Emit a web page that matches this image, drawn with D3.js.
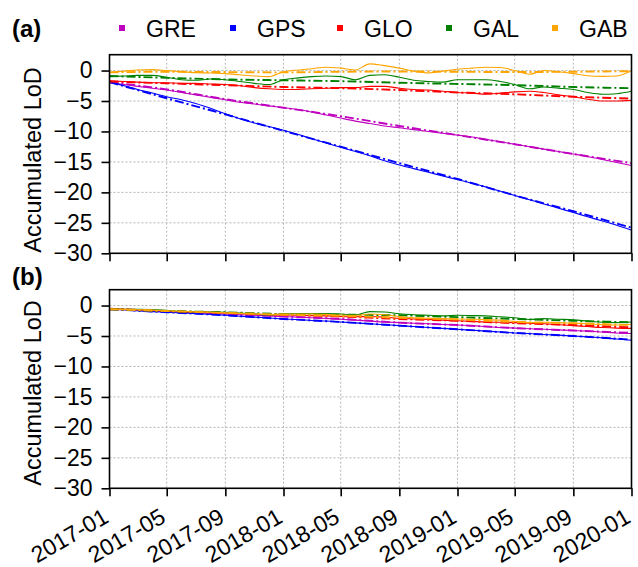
<!DOCTYPE html>
<html>
<head>
<meta charset="utf-8">
<script src="https://cdn.jsdelivr.net/npm/d3@7"></script>
<style>
  html, body { margin: 0; padding: 0; background: #fff; }
  svg { display: block; font-family: "Liberation Sans", Arial, sans-serif; }
</style>
</head>
<body>
<svg id="chart" width="638" height="567"></svg>
<script>
// Series names and colours (legend order)
const seriesNames = ["GRE", "GPS", "GLO", "GAL", "GAB"];
const seriesColors = ["#bf00bf", "#0000ff", "#ff0000", "#008000", "#ffa500"];

// Monthly dates 2017-01 .. 2020-01 (37 values) for the solid curves,
// and every fourth month (10 values) for the dash-dot trend curves.
const monthDates = d3.timeMonth.range(new Date(2017, 0, 1), new Date(2020, 0, 2));
const trendDates = monthDates.filter((d, i) => i % 4 === 0);

// Tick values
const xTickDates = trendDates;
const yTickValues = [0, -5, -10, -15, -20, -25, -30];

// Panel (a): solid curves (monthly)
const aSolidGRE = [-2.0,-2.3,-2.6,-2.9,-3.2,-3.6,-4.0,-4.4,-4.8,-5.2,-5.5,-5.8,-6.1,-6.4,-6.8,-7.3,-7.8,-8.3,-8.7,-9.1,-9.4,-9.7,-10.0,-10.3,-10.6,-10.9,-11.3,-11.7,-12.1,-12.5,-12.9,-13.3,-13.7,-14.1,-14.6,-15.1,-15.6];
const aSolidGPS = [-1.9,-2.5,-3.1,-3.7,-4.3,-4.8,-5.4,-6.2,-7.1,-7.9,-8.6,-9.2,-9.8,-10.5,-11.2,-11.9,-12.6,-13.3,-14.0,-14.8,-15.5,-16.1,-16.7,-17.3,-17.9,-18.5,-19.1,-19.8,-20.5,-21.2,-21.9,-22.6,-23.3,-24.0,-24.7,-25.4,-26.2];
const aSolidGLO = [-1.7,-1.8,-1.9,-2.0,-2.0,-2.1,-2.1,-2.2,-2.3,-2.5,-2.8,-3.0,-3.1,-3.1,-3.0,-2.9,-2.8,-2.8,-2.6,-2.6,-2.9,-3.1,-3.2,-3.4,-3.6,-3.7,-3.9,-3.7,-3.5,-3.4,-3.6,-4.0,-4.3,-4.7,-5.0,-5.0,-4.9];
const aSolidGAL = [-1.0,-0.9,-0.8,-0.8,-1.1,-1.5,-1.6,-1.4,-1.5,-1.8,-2.1,-2.3,-1.5,-1.2,-1.0,-0.9,-1.0,-1.5,-0.8,-0.7,-1.1,-1.6,-1.8,-1.9,-1.5,-1.5,-1.5,-1.8,-2.3,-3.0,-2.7,-2.9,-3.1,-3.6,-3.9,-3.8,-3.4];
const aSolidGAB = [-0.3,-0.1,0.1,0.15,0.0,-0.2,-0.35,-0.4,-0.5,-0.7,-0.9,-1.0,-0.2,0.1,0.3,0.55,0.4,0.1,1.1,0.8,0.4,-0.1,-0.4,-0.1,0.2,0.4,0.55,0.5,0.0,-0.6,0.0,-0.2,-0.5,-0.85,-0.95,-0.9,0.0];

// Panel (a): dash-dot trend curves (every fourth month)
const aTrendGRE = [-1.9,-3.1,-4.7,-6.1,-7.5,-9.1,-10.6,-12.1,-13.7,-15.2];
const aTrendGPS = [-1.9,-4.55,-7.2,-9.9,-12.5,-15.2,-17.8,-20.5,-23.1,-25.8];
const aTrendGLO = [-1.8,-2.1,-2.4,-2.7,-2.9,-3.2,-3.6,-3.9,-4.3,-4.6];
const aTrendGAL = [-0.9,-1.2,-1.45,-1.6,-1.75,-2.0,-2.2,-2.4,-2.7,-2.9];
const aTrendGAB = [-0.3,-0.2,-0.25,-0.3,-0.2,-0.15,-0.2,-0.25,-0.2,-0.1];

// Panel (b): solid curves (monthly)
const bSolidGRE = [-0.6,-0.7,-0.8,-0.9,-1.0,-1.1,-1.2,-1.3,-1.4,-1.5,-1.6,-1.7,-1.8,-1.9,-2.0,-2.1,-2.25,-2.4,-2.55,-2.7,-2.8,-2.9,-3.0,-3.1,-3.2,-3.3,-3.45,-3.6,-3.7,-3.8,-3.9,-4.0,-4.1,-4.2,-4.35,-4.5,-4.6];
const bSolidGPS = [-0.6,-0.7,-0.85,-1.0,-1.1,-1.2,-1.35,-1.45,-1.6,-1.75,-1.9,-2.05,-2.2,-2.3,-2.45,-2.55,-2.7,-2.85,-3.0,-3.15,-3.3,-3.45,-3.6,-3.75,-3.9,-4.05,-4.2,-4.35,-4.5,-4.6,-4.75,-4.85,-5.0,-5.15,-5.3,-5.5,-5.7];
const bSolidGLO = [-0.5,-0.6,-0.7,-0.8,-0.9,-1.0,-1.05,-1.1,-1.2,-1.3,-1.4,-1.5,-1.55,-1.6,-1.65,-1.7,-1.8,-1.85,-1.8,-1.9,-2.1,-2.2,-2.3,-2.4,-2.5,-2.6,-2.7,-2.75,-2.8,-2.9,-3.0,-3.15,-3.3,-3.45,-3.6,-3.7,-3.75];
const bSolidGAL = [-0.6,-0.6,-0.6,-0.65,-0.8,-0.95,-1.05,-1.05,-1.1,-1.25,-1.4,-1.55,-1.35,-1.3,-1.3,-1.3,-1.4,-1.55,-1.0,-1.05,-1.35,-1.5,-1.6,-1.7,-1.6,-1.65,-1.7,-1.85,-2.0,-2.3,-2.15,-2.25,-2.35,-2.55,-2.75,-2.8,-2.7];
const bSolidGAB = [-0.6,-0.65,-0.7,-0.75,-0.85,-0.95,-1.05,-1.1,-1.2,-1.3,-1.4,-1.5,-1.4,-1.4,-1.4,-1.45,-1.55,-1.6,-1.4,-1.5,-1.8,-2.0,-2.1,-2.15,-2.2,-2.25,-2.3,-2.4,-2.6,-2.8,-2.75,-2.8,-2.9,-3.0,-3.15,-3.2,-3.1];

// Panel (b): dash-dot trend curves (every fourth month)
const bTrendGRE = [-0.6,-1.0,-1.4,-1.8,-2.2,-2.8,-3.2,-3.7,-4.1,-4.5];
const bTrendGPS = [-0.6,-1.1,-1.6,-2.2,-2.7,-3.3,-3.9,-4.5,-5.0,-5.6];
const bTrendGLO = [-0.5,-0.9,-1.2,-1.5,-1.8,-2.2,-2.5,-2.9,-3.2,-3.6];
const bTrendGAL = [-0.6,-0.9,-1.1,-1.4,-1.5,-1.6,-1.9,-2.2,-2.5,-2.75];
const bTrendGAB = [-0.6,-0.9,-1.2,-1.5,-1.7,-2.0,-2.3,-2.7,-2.9,-3.2];

const panels = [
  { tag: "(a)", top: 54.7, bottom: 253.3, tagY: 37, titleY: 160,
    solid: [aSolidGRE, aSolidGPS, aSolidGLO, aSolidGAL, aSolidGAB],
    trend: [aTrendGRE, aTrendGPS, aTrendGLO, aTrendGAL, aTrendGAB], xLabels: false },
  { tag: "(b)", top: 289.7, bottom: 488.3, tagY: 285, titleY: 393,
    solid: [bSolidGRE, bSolidGPS, bSolidGLO, bSolidGAL, bSolidGAB],
    trend: [bTrendGRE, bTrendGPS, bTrendGLO, bTrendGAL, bTrendGAB], xLabels: true }
];

const svg = d3.select("#chart");
const left = 109.5, right = 631.5;
const fs = 23;

const x = d3.scaleTime()
  .domain([new Date(2017, 0, 1), new Date(2020, 0, 1)])
  .range([left, right]);

panels.forEach(p => {
  const y = d3.scaleLinear().domain([-30, 2.6]).range([p.bottom, p.top]);
  const g = svg.append("g");

  // dotted grid
  g.append("g").selectAll("line").data(xTickDates).join("line")
    .attr("x1", d => x(d)).attr("x2", d => x(d))
    .attr("y1", p.top).attr("y2", p.bottom)
    .attr("stroke", "#b4b4b4").attr("stroke-width", 1).attr("stroke-dasharray", "2,2");
  g.append("g").selectAll("line").data(yTickValues).join("line")
    .attr("x1", left).attr("x2", right)
    .attr("y1", d => y(d)).attr("y2", d => y(d))
    .attr("stroke", "#b4b4b4").attr("stroke-width", 1).attr("stroke-dasharray", "2,2");

  // curves: solid (monthly) then dash-dot trends
  const line = d3.line().x(d => x(d[0])).y(d => y(d[1])).curve(d3.curveMonotoneX);
  seriesNames.forEach((name, i) => {
    g.append("path")
      .datum(monthDates.map((d, k) => [d, p.solid[i][k]]))
      .attr("d", line).attr("fill", "none")
      .attr("stroke", seriesColors[i]).attr("stroke-width", 1.1);
    g.append("path")
      .datum(trendDates.map((d, k) => [d, p.trend[i][k]]))
      .attr("d", line).attr("fill", "none")
      .attr("stroke", seriesColors[i]).attr("stroke-width", 1.9)
      .attr("stroke-dasharray", "9,3,2,3");
  });

  // axes
  const yAxis = d3.axisLeft(y).tickValues(yTickValues).tickSize(8).tickPadding(9);
  const yG = g.append("g").attr("transform", `translate(${left},0)`).call(yAxis);
  yG.select(".domain").remove();
  yG.selectAll(".tick line").attr("stroke", "#000").attr("stroke-width", 1.6);
  yG.selectAll(".tick text").attr("font-size", fs).attr("fill", "#000")
    .attr("font-family", "Liberation Sans, Arial, sans-serif");

  const xAxis = d3.axisBottom(x).tickValues(xTickDates).tickSize(8)
    .tickFormat(p.xLabels ? d3.timeFormat("%Y-%m") : "");
  const xG = g.append("g").attr("transform", `translate(0,${p.bottom})`).call(xAxis);
  xG.select(".domain").remove();
  xG.selectAll(".tick line").attr("stroke", "#000").attr("stroke-width", 1.6);
  xG.selectAll(".tick text")
    .attr("font-size", fs).attr("fill", "#000")
    .attr("font-family", "Liberation Sans, Arial, sans-serif")
    .attr("text-anchor", "end")
    .attr("y", 0).attr("dy", 0)
    .attr("transform", "translate(0,33) rotate(-30)");

  // frame
  g.append("rect").attr("x", left).attr("y", p.top)
    .attr("width", right - left).attr("height", p.bottom - p.top)
    .attr("fill", "none").attr("stroke", "#000").attr("stroke-width", 1.6);

  // panel tag and y title
  svg.append("text").attr("x", 12).attr("y", p.tagY)
    .attr("font-size", 24).attr("font-weight", "bold").text(p.tag);
  svg.append("text")
    .attr("transform", `translate(41,${p.titleY}) rotate(-90)`)
    .attr("text-anchor", "middle").attr("font-size", 23.5)
    .text("Accumulated LoD");
});

// legend
const legendX = [122, 233, 340, 449, 555];
const lg = svg.append("g");
seriesNames.forEach((name, i) => {
  lg.append("rect").attr("x", legendX[i] - 3).attr("y", 25).attr("width", 6).attr("height", 6)
    .attr("fill", seriesColors[i]);
  lg.append("text").attr("x", legendX[i] + 24).attr("y", 36.5)
    .attr("font-size", fs).attr("fill", "#000").text(name);
});
</script>
</body>
</html>
